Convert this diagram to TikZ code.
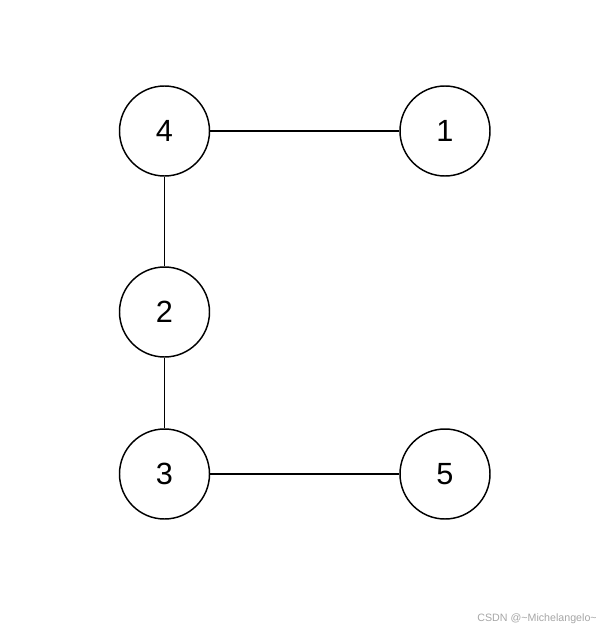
\documentclass[tikz,border=0pt]{standalone}
\usepackage{fontspec}
\setmainfont{Liberation Sans}
\begin{document}
\begin{tikzpicture}[x=0.75pt,y=-0.75pt,
  vert/.style={circle,draw=black,line width=1.1pt,minimum size=67.5pt,inner sep=0pt,font=\fontsize{23}{23}\selectfont},
  edge/.style={draw=black,line width=1.1pt}]
\useasboundingbox (0,0) rectangle (604,632);
\node[vert] (n4) at (164.5,131) {4};
\node[vert] (n1) at (445,131) {1};
\node[vert] (n2) at (164.5,312) {2};
\node[vert] (n3) at (164.5,474) {3};
\node[vert] (n5) at (445,474) {5};
\draw[edge] (n4) -- (n1);
\draw[edge] (n4) -- (n2);
\draw[edge] (n2) -- (n3);
\draw[edge] (n3) -- (n5);
\node[anchor=east,text=black!35,font=\fontsize{8}{8}\selectfont,inner sep=0pt] (wm) at (597,619) {CSDN @\textasciitilde Michelangelo\textasciitilde};
\end{tikzpicture}
\end{document}
